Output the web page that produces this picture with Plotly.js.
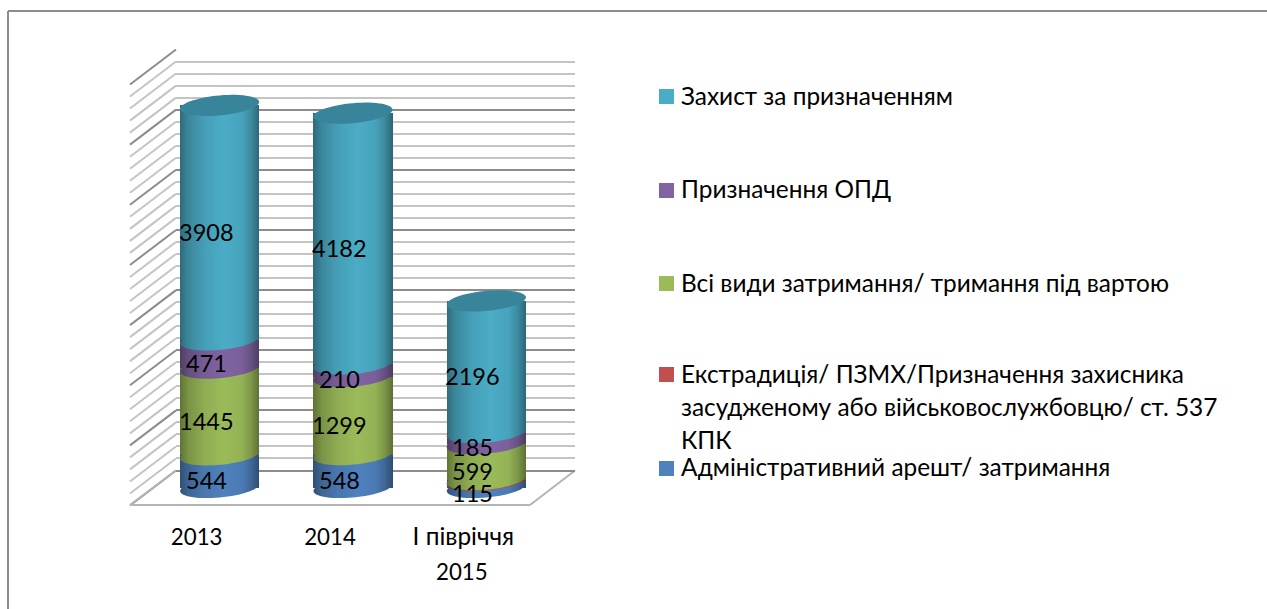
<!DOCTYPE html>
<html><head><meta charset="utf-8">
<script src="https://cdn.plot.ly/plotly-3.0.1.min.js"></script>
<style>html,body{margin:0;padding:0;background:#fff;overflow:hidden}#c{width:1267px;height:609px}</style>
</head><body><div id="c"></div>
<script>
const categories = ["2013", "2014", "І півріччя"];
const categorySecondLine = ["", "", "2015"];
const arrest = [544, 548, 115];
const extradition = [0, 0, 15];
const detention = [1445, 1299, 599];
const opd = [471, 210, 185];
const defence = [3908, 4182, 2196];
const seriesNames = [["Адміністративний арешт/ затримання"],
  ["Екстрадиція/ ПЗМХ/Призначення захисника","засудженому або військовослужбовцю/ ст. 537","КПК"],
  ["Всі види затримання/ тримання під вартою"],
  ["Призначення ОПД"],
  ["Захист за призначенням"]];
const seriesValues = [arrest, extradition, detention, opd, defence];
const seriesColors = ["#4F81BD", "#C0504D", "#9BBB59", "#8064A2", "#4BACC6"];
const topColor = "#37849B";
const legendY = [468, 374, 283, 190, 96];
const legendLineGap = 33;
const FONT = "Lato, 'Noto Sans', sans-serif";
const W = 1267, H = 609;
const px = v => v / W, py = v => 1 - v / H;
const xs = [0, 1, 2];

const traces = [];
traces.push({type:'scatter', x:[0], y:[0], xaxis:'x', yaxis:'y', mode:'markers', marker:{opacity:0}, showlegend:false, hoverinfo:'skip'});
seriesValues.forEach((vals,i)=>traces.push({type:'bar', name:seriesNames[i].join(' '), x:xs, y:vals, xaxis:'x2', yaxis:'y2',
  width:0.593, marker:{color:seriesColors[i], line:{width:0}}, showlegend:false, hoverinfo:'skip'}));
traces.push({type:'scatter', x:[0], y:[0], xaxis:'x3', yaxis:'y2', mode:'markers', marker:{opacity:0}, showlegend:false, hoverinfo:'skip'});

const cum = xs.map(()=>0);
const shapes = [], annotations = [];
const halfW = 0.2965, bUnits = 10/0.06, tiltUnits = 3.5/0.06;
function ellipsePath(cx, cy){
  let d = '';
  for(let k=0;k<60;k++){
    const t = 2*Math.PI*k/60;
    const x = cx + halfW*Math.cos(t);
    const y = cy + bUnits*Math.sin(t) + tiltUnits*Math.cos(t);
    d += (k?'L':'M') + x.toFixed(4) + ',' + y.toFixed(2);
  }
  return d + 'Z';
}
seriesValues.forEach((vals,i)=>{
  vals.forEach((v,j)=>{
    if(v>0){
      shapes.push({type:'path', xref:'x2', yref:'y2', layer:'above', path:ellipsePath(xs[j],cum[j]),
        fillcolor:seriesColors[i], line:{width:0}});
    }
    if(i!==1){
      annotations.push({xref:'x2', yref:'y2', x:xs[j], y:cum[j]+v/2, text:String(v), showarrow:false,
        xshift:-13.5, yshift:-9, font:{family:FONT, size:23.5, color:'#000'}});
    }
    cum[j]+=v;
  });
});
xs.forEach(j=>shapes.push({type:'path', xref:'x2', yref:'y2', layer:'above', path:ellipsePath(xs[j],cum[j]),
  fillcolor:topColor, line:{width:0}}));

const wallTicks = [];
for(let v=0;v<=7000;v+=200) wallTicks.push(v);
wallTicks.forEach(v=>{
  const yBack = 470.5 - v*0.06014;
  shapes.push({type:'line', xref:'paper', yref:'paper', layer:'below', x0:px(176), x1:px(130), y0:py(yBack), y1:py(yBack+35),
    line:{color: v%1000===0 ? '#8C8C8C' : '#C4C4C4', width:2}});
});
[[130,505,530,505],[530,505,575,470.5],[130,505,176,470.5]].forEach(s=>shapes.push({type:'line', xref:'paper', yref:'paper', layer:'below',
  x0:px(s[0]), y0:py(s[1]), x1:px(s[2]), y1:py(s[3]), line:{color:'#B4B4B4', width:2}}));
[[8,11,1267,11],[8,11,8,609]].forEach(s=>shapes.push({type:'line', xref:'paper', yref:'paper', layer:'below',
  x0:px(s[0]), y0:py(s[1]), x1:px(s[2]), y1:py(s[3]), line:{color:'#8C8C8C', width:2}}));

seriesNames.forEach((lines,i)=>{
  const c = legendY[i];
  shapes.push({type:'rect', xref:'paper', yref:'paper', layer:'above', x0:px(659), x1:px(674),
    y0:py(c+8), y1:py(c-7), fillcolor:seriesColors[i], line:{width:0}});
  lines.forEach((n,k)=>annotations.push({xref:'paper', yref:'paper', x:px(679), y:py(c+k*legendLineGap-1), xanchor:'left', yanchor:'middle', align:'left',
    text:n, showarrow:false, font:{family:FONT, size:24.4, color:'#000'}}));
});
categorySecondLine.forEach((t,j)=>{ if(t) annotations.push({xref:'x3', yref:'paper', x:xs[j], xshift:-1.5, y:py(571), yanchor:'middle', text:t, showarrow:false,
  font:{family:FONT, size:22.3, color:'#000'}}); });

const hidden = {visible:false, fixedrange:true};
const layout = {
  width:W, height:H, margin:{l:0,r:0,t:0,b:0,pad:0}, paper_bgcolor:'#fff', plot_bgcolor:'rgba(0,0,0,0)',
  showlegend:false, barmode:'stack', shapes, annotations,
  xaxis:Object.assign({}, hidden, {domain:[px(176),px(575)], range:[0,1], anchor:'y'}),
  yaxis:{domain:[py(470.5),py(49.5)], range:[0,7000], anchor:'x', showticklabels:false, ticks:'', showline:false,
    dtick:1000, gridcolor:'#8C8C8C', gridwidth:2, zeroline:true, zerolinecolor:'#8C8C8C', zerolinewidth:2,
    minor:{dtick:200, showgrid:true, gridcolor:'#C4C4C4', gridwidth:2, ticks:''}},
  xaxis2:Object.assign({}, hidden, {domain:[px(153),px(553)], range:[-0.5,2.5], anchor:'y2'}),
  yaxis2:Object.assign({}, hidden, {domain:[py(517.5),py(67.5)], range:[-500,7000], anchor:'x2'}),
  xaxis3:{domain:[px(130),px(530)], range:[-0.5,2.5], anchor:'free', position:py(505), showgrid:false, zeroline:false, showline:false,
    tickmode:'array', tickvals:xs,
    ticktext:categories.map(c=>/^\d+$/.test(c)?c:`<span style="font-size:24.4px">${c}</span>`),
    ticks:'outside', ticklen:12, tickcolor:'rgba(0,0,0,0)',
    tickfont:{family:FONT, size:22.3, color:'#000'}, side:'bottom'}
};
Plotly.newPlot('c', traces, layout, {staticPlot:true, displayModeBar:false}).then(gd=>{
  const svg = gd.querySelector('svg.main-svg');
  const ns = 'http://www.w3.org/2000/svg';
  const defs = document.createElementNS(ns,'defs');
  svg.insertBefore(defs, svg.firstChild);
  const shade = (hex,f)=>{const n=parseInt(hex.slice(1),16);
    const c=[n>>16,(n>>8)&255,n&255].map(v=>Math.round(v*f));return `rgb(${c.join(',')})`;};
  const stops = [[0,.62],[.1,.78],[.3,.92],[.55,1],[.78,.95],[.9,.8],[1,.6]];
  const map = {};
  seriesColors.forEach((c,i)=>{
    const g = document.createElementNS(ns,'linearGradient');
    g.setAttribute('id','cyl'+i); g.setAttribute('x1','0'); g.setAttribute('x2','1'); g.setAttribute('y1','0'); g.setAttribute('y2','0');
    stops.forEach(s=>{const e=document.createElementNS(ns,'stop'); e.setAttribute('offset',s[0]); e.setAttribute('stop-color',shade(c,s[1])); g.appendChild(e);});
    defs.appendChild(g);
    const n=parseInt(c.slice(1),16);
    map[`rgb(${n>>16}, ${(n>>8)&255}, ${n&255})`]=`url(#cyl${i})`;
  });
  gd.querySelectorAll('.bars .point path').forEach(p=>{ const f=p.style.fill; if(map[f]) p.style.fill=map[f]; });
  gd.querySelectorAll('.layer-above .shapelayer path').forEach(p=>{
    const f=p.style.fill; if(map[f] && p.getBBox().width>20) p.style.fill=map[f]; });
});
</script></body></html>
